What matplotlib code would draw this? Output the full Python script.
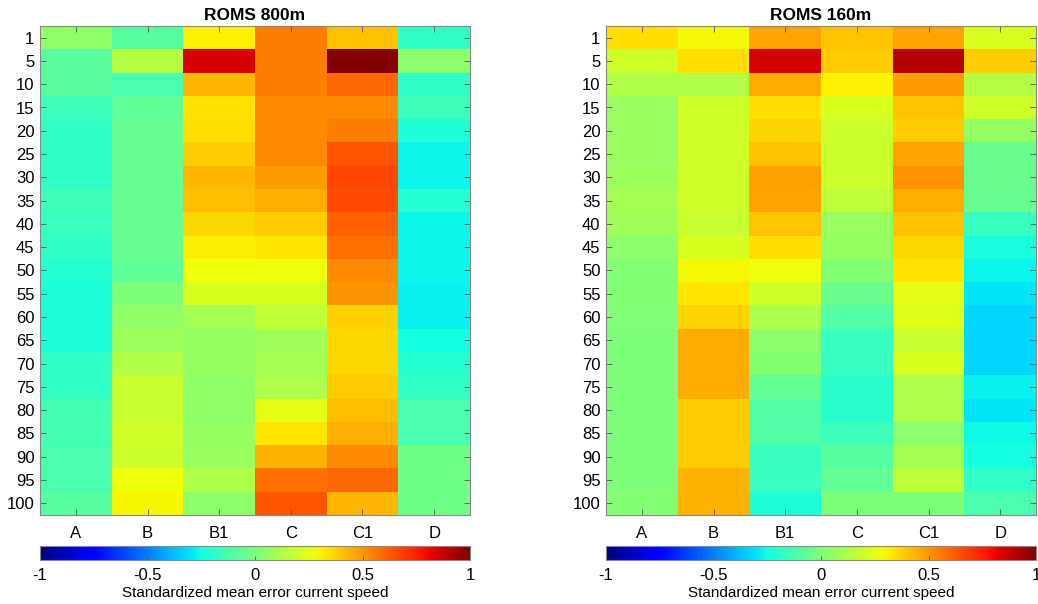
import numpy as np
import matplotlib
matplotlib.use("Agg")
import matplotlib.pyplot as plt

plt.rcParams['font.family'] = ['Liberation Sans', 'DejaVu Sans']

depths = [1, 5, 10, 15, 20, 25, 30, 35, 40, 45, 50, 55, 60, 65, 70, 75, 80, 85, 90, 95, 100]
stations = ["A", "B", "B1", "C", "C1", "D"]

# ROMS 800m: one list per station, values per depth
r800_A = [0.05, -0.08, -0.08, -0.15, -0.18, -0.18, -0.18, -0.15, -0.17, -0.18, -0.21, -0.23, -0.23, -0.23, -0.18, -0.18, -0.14, -0.14, -0.12, -0.12, -0.09]
r800_B = [-0.09, 0.14, -0.12, -0.07, -0.05, -0.05, -0.05, -0.05, -0.05, -0.05, -0.07, 0.00, 0.05, 0.08, 0.13, 0.18, 0.18, 0.20, 0.19, 0.28, 0.30]
r800_B1 = [0.31, 0.85, 0.43, 0.34, 0.35, 0.39, 0.43, 0.42, 0.36, 0.32, 0.28, 0.22, 0.10, 0.06, 0.06, 0.05, 0.05, 0.06, 0.07, 0.12, 0.04]
r800_C = [0.55, 0.55, 0.55, 0.53, 0.53, 0.53, 0.49, 0.45, 0.39, 0.33, 0.28, 0.22, 0.17, 0.09, 0.10, 0.12, 0.25, 0.33, 0.44, 0.58, 0.64]
r800_C1 = [0.41, 0.99, 0.60, 0.53, 0.55, 0.64, 0.67, 0.66, 0.61, 0.58, 0.53, 0.50, 0.38, 0.36, 0.36, 0.39, 0.42, 0.45, 0.53, 0.60, 0.43]
r800_D = [-0.18, 0.04, -0.18, -0.15, -0.22, -0.27, -0.27, -0.21, -0.27, -0.27, -0.27, -0.28, -0.28, -0.25, -0.21, -0.18, -0.12, -0.12, -0.03, -0.03, -0.03]

# ROMS 160m
r160_A = [0.35, 0.20, 0.13, 0.07, 0.07, 0.07, 0.08, 0.10, 0.09, 0.04, 0.02, 0.02, 0.01, 0.00, 0.00, 0.00, 0.00, 0.00, 0.00, 0.00, 0.02]
r160_B = [0.29, 0.35, 0.13, 0.20, 0.20, 0.20, 0.20, 0.20, 0.18, 0.22, 0.29, 0.33, 0.37, 0.46, 0.46, 0.46, 0.39, 0.39, 0.39, 0.44, 0.44]
r160_B1 = [0.47, 0.85, 0.46, 0.35, 0.37, 0.41, 0.48, 0.47, 0.40, 0.35, 0.28, 0.20, 0.12, 0.04, 0.02, -0.06, -0.10, -0.10, -0.17, -0.17, -0.22]
r160_C = [0.40, 0.39, 0.31, 0.22, 0.19, 0.19, 0.19, 0.16, 0.07, 0.06, 0.02, -0.04, -0.10, -0.17, -0.17, -0.20, -0.20, -0.15, -0.09, -0.06, 0.00]
r160_C1 = [0.47, 0.90, 0.49, 0.40, 0.39, 0.47, 0.50, 0.45, 0.41, 0.36, 0.34, 0.25, 0.24, 0.18, 0.22, 0.12, 0.12, 0.04, 0.10, 0.16, 0.00]
r160_D = [0.22, 0.39, 0.14, 0.20, 0.06, -0.04, -0.04, -0.05, -0.17, -0.24, -0.27, -0.30, -0.33, -0.33, -0.33, -0.28, -0.30, -0.26, -0.25, -0.18, -0.12]

titles = ["ROMS 800m", "ROMS 160m"]
cbar_label = "Standardized mean error current speed"
cbar_ticks = [-1, -0.5, 0, 0.5, 1]
cbar_ticklabels = ["-1", "-0.5", "0", "0.5", "1"]

data800 = np.column_stack([r800_A, r800_B, r800_B1, r800_C, r800_C1, r800_D])
data160 = np.column_stack([r160_A, r160_B, r160_B1, r160_C, r160_C1, r160_D])

W, H = 1038, 604
fig = plt.figure(figsize=(W / 100, H / 100), dpi=100)

edge = '#888888'
panels = [(40, data800, titles[0]), (606, data160, titles[1])]
for x0, data, title in panels:
    ax = fig.add_axes([x0 / W, 1 - 515 / H, 430 / W, 489 / H])
    mesh = ax.pcolormesh(np.arange(len(stations) + 1) - 0.5,
                         np.arange(len(depths) + 1) - 0.5,
                         data, cmap='jet', vmin=-1, vmax=1, shading='flat')
    ax.set_xlim(-0.5, len(stations) - 0.5)
    ax.set_ylim(len(depths) - 0.5, -0.5)
    ax.set_xticks(np.arange(len(stations)))
    ax.set_xticklabels(stations)
    ax.set_yticks(np.arange(len(depths)))
    ax.set_yticklabels([str(d) for d in depths])
    ax.tick_params(direction='in', top=True, right=True, length=4, width=0.6,
                   color='#555555', labelsize=12, pad=4)
    ax.tick_params(axis='x', pad=8)
    for s in ax.spines.values():
        s.set_color(edge)
        s.set_linewidth(0.8)
    ax.set_title(title, fontsize=12.5, fontweight='bold', pad=4)

    cax = fig.add_axes([x0 / W, 1 - 560 / H, 430 / W, 14 / H])
    cb = fig.colorbar(mesh, cax=cax, orientation='horizontal', ticks=cbar_ticks)
    cb.ax.set_xticklabels(cbar_ticklabels)
    cb.ax.tick_params(direction='in', length=3, width=0.6, color='#555555',
                      labelsize=12, pad=6)
    cb.outline.set_edgecolor(edge)
    cb.outline.set_linewidth(0.8)
    cb.set_label(cbar_label, fontsize=11, labelpad=2)

fig.savefig("out.png", dpi=100)
